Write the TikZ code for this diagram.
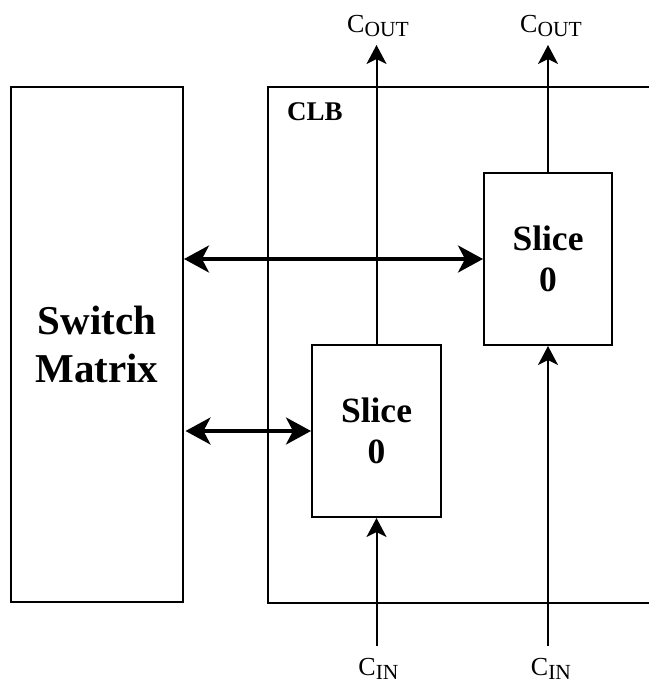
\documentclass[tikz,border=0pt]{standalone}
\usepackage{fontspec}
\setmainfont{Liberation Serif}
\usetikzlibrary{arrows.meta}
\newcommand{\csub}[1]{{\fontsize{26}{26}\selectfont C}\raisebox{-4pt}{\fontsize{21.5}{21.5}\selectfont #1}}
\tikzset{
  blk/.style={draw, line width=2pt, rectangle, inner sep=0pt, align=center, font=\bfseries},
  thin/.style={line width=2pt, -{Stealth[length=19pt,width=20pt,inset=5pt]}},
  bus/.style={line width=3.5pt, {Stealth[length=25pt,width=27pt,inset=7pt]}-{Stealth[length=25pt,width=27pt,inset=7pt]}},
  lab/.style={inner sep=0pt, anchor=base}
}
\begin{document}
\begin{tikzpicture}[x=1pt,y=-1pt]
\useasboundingbox (0,0) rectangle (649,682);
% CLB outline (open to the right)
\draw[line width=2pt] (649,87) -| (268,603) -- (649,603);
\node[inner sep=0pt, anchor=base west, font=\bfseries\fontsize{27}{27}\selectfont] (clb) at (287,121) {CLB};
% blocks
\node[blk, minimum width=172pt, minimum height=515pt, font=\bfseries\fontsize{41}{48}\selectfont] (sw) at (97,344.5) {Switch\\Matrix};
\node[blk, minimum width=129pt, minimum height=172pt, font=\bfseries\fontsize{35.5}{41}\selectfont] (sL) at (376.5,431) {Slice\\0};
\node[blk, minimum width=128pt, minimum height=172pt, font=\bfseries\fontsize{35.5}{41}\selectfont] (sR) at (548,259) {Slice\\0};
% carry coordinates
\coordinate (coL) at (376.5,45);
\coordinate (coR) at (548,45);
\coordinate (ciL) at (376.5,646);
\coordinate (ciR) at (548,646);
% carry connectors
\draw[thin] (sL.north) -- (coL);
\draw[thin] (sR.north) -- (coR);
\draw[thin] (ciL) -- (sL.south);
\draw[thin] (ciR) -- (sR.south);
% buses
\draw[bus] (sw.east |- sR.west) -- (sR.west);
\draw[bus] ([xshift=1.5pt]sw.east |- sL.west) -- (sL.west);
% labels
\node[lab] (tCoL) at (378,33) {\csub{OUT}};
\node[lab] (tCoR) at (551,33) {\csub{OUT}};
\node[lab] (tCiL) at (378.5,675) {\csub{IN}};
\node[lab] (tCiR) at (551,675) {\csub{IN}};
\end{tikzpicture}
\end{document}
